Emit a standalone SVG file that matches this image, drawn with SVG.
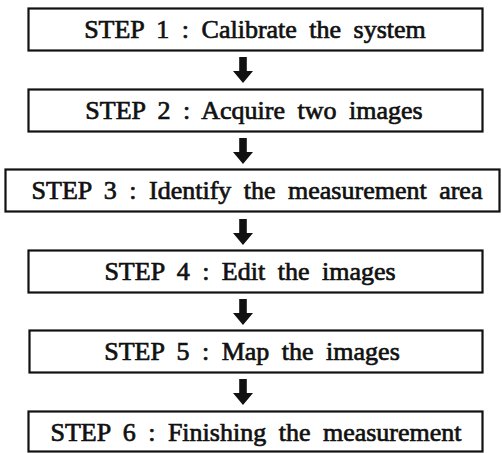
<svg xmlns="http://www.w3.org/2000/svg" width="502" height="453" viewBox="0 0 502 453">
  <defs>
    <style>
      .box { fill: #fff; stroke: #111; stroke-width: 2.2; }
      .label { font-family: "Liberation Serif", "Times New Roman", serif; font-size: 26px; fill: #111; stroke: #111; stroke-width: 0.7; text-anchor: middle; word-spacing: 6px; }
      .arrow { fill: #111; }
    </style>
    <!-- thick down arrow: shaft + triangular head, tip at origin -->
    <path id="down" d="M -3.8 -26 H 3.8 V -12 H 10 L 0 0 L -10 -12 H -3.8 Z"/>
  </defs>
  <rect width="502" height="453" fill="#fff"/>

  <g id="step1">
    <rect class="box" x="28.5" y="8.5" width="454" height="42"/>
    <text class="label" x="255" y="38">STEP 1 : Calibrate the system</text>
  </g>
  <g id="step2">
    <rect class="box" x="28.5" y="89.5" width="454" height="42"/>
    <text class="label" x="254" y="119">STEP 2 : Acquire two images</text>
  </g>
  <g id="step3">
    <rect class="box" x="5.5" y="169.5" width="494" height="42"/>
    <text class="label" x="257" y="199">STEP 3 : Identify the measurement area</text>
  </g>
  <g id="step4">
    <rect class="box" x="28.5" y="250.5" width="454" height="42"/>
    <text class="label" x="250" y="280">STEP 4 : Edit the images</text>
  </g>
  <g id="step5">
    <rect class="box" x="29.5" y="330.5" width="453" height="42"/>
    <text class="label" x="252" y="360">STEP 5 : Map the images</text>
  </g>
  <g id="step6">
    <rect class="box" x="28.5" y="411.5" width="454" height="40"/>
    <text class="label" x="256" y="441">STEP 6 : Finishing the measurement</text>
  </g>

  <g id="connectors">
    <use href="#down" class="arrow" x="243" y="83"/>
    <use href="#down" class="arrow" x="243" y="164"/>
    <use href="#down" class="arrow" x="243" y="245"/>
    <use href="#down" class="arrow" x="243" y="325"/>
    <use href="#down" class="arrow" x="243" y="405"/>
  </g>
</svg>
